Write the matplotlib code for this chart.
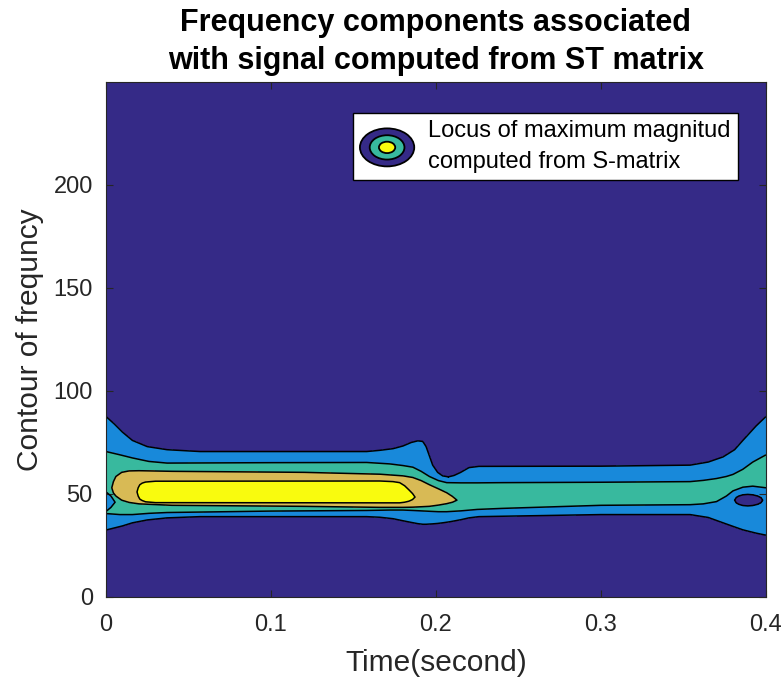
"""
Filled contour of the S-transform magnitude: frequency band vs. time,
five parula-style levels with black level lines.
"""
from __future__ import annotations

import matplotlib
matplotlib.use("Agg")
import matplotlib.pyplot as plt
import numpy as np
from matplotlib.legend_handler import HandlerBase
from matplotlib.patches import Ellipse

# level boundaries of the S-matrix magnitude, as (time, lower freq, upper freq)
BLUE_T = [0.0, 0.005, 0.01, 0.016, 0.025, 0.037, 0.057, 0.158, 0.166, 0.174, 0.18,
          0.185, 0.189, 0.192, 0.194, 0.196, 0.198, 0.201, 0.204, 0.2075, 0.211,
          0.215, 0.22, 0.226, 0.3, 0.354, 0.365, 0.374, 0.381, 0.386, 0.39, 0.394, 0.4]
BLUE_HI = [87.6, 84.0, 80.0, 76.0, 73.0, 71.5, 70.6, 70.6, 71.2, 72.0, 73.3,
           75.0, 75.8, 75.5, 73.0, 68.5, 64.0, 60.5, 58.8, 58.3, 59.0,
           60.5, 62.8, 63.4, 63.5, 64.0, 65.5, 68.0, 71.5, 76.0, 79.5, 83.0, 87.6]
BLUE_LO = [32.5, 33.5, 34.5, 36.0, 37.4, 38.4, 39.0, 39.0, 38.7, 38.0, 37.0,
           36.2, 35.6, 35.3, 35.3, 35.4, 35.5, 35.7, 36.0, 36.4, 36.9,
           37.5, 38.4, 39.0, 40.0, 40.0, 38.6, 36.0, 34.0, 32.6, 31.8, 31.0, 30.0]

TEAL_T = [0.0, 0.0085, 0.016, 0.026, 0.037, 0.1, 0.158, 0.172, 0.18, 0.186, 0.191,
          0.196, 0.2015, 0.2065, 0.215, 0.225, 0.24, 0.3, 0.354, 0.362, 0.37, 0.376,
          0.38, 0.386, 0.392, 0.4]
TEAL_HI = [70.6, 69.0, 67.5, 65.8, 65.0, 65.2, 65.3, 64.6, 63.8, 63.0, 61.0,
           58.5, 56.5, 55.5, 55.4, 55.4, 55.5, 55.7, 56.0, 56.6, 57.5, 58.5,
           59.5, 62.0, 65.5, 69.0]
TEAL_LO = [40.5, 40.0, 40.0, 40.6, 41.0, 41.7, 42.0, 42.2, 42.2, 42.0, 41.8,
           41.6, 41.4, 41.4, 41.8, 42.5, 43.0, 44.5, 44.8, 45.2, 46.3, 49.0,
           51.5, 53.3, 53.8, 53.0]

# low-magnitude tongue entering the band at t = 0
TONGUE_T = [0.0, 0.003, 0.0055]
TONGUE_HI = [51.0, 49.0, 46.0]
TONGUE_LO = [41.5, 43.5, 46.0]

TAN_T = [0.0035, 0.0045, 0.006, 0.0095, 0.014, 0.02, 0.04, 0.12, 0.166, 0.18,
         0.186, 0.191, 0.196, 0.2015, 0.2065, 0.21, 0.2127]
TAN_HI = [53.0, 56.0, 58.5, 60.5, 61.2, 61.3, 61.0, 60.5, 59.6, 58.8,
          58.0, 56.5, 54.5, 52.5, 50.6, 48.8, 47.0]
TAN_LO = [53.0, 50.5, 49.0, 47.0, 45.9, 45.2, 44.5, 44.0, 43.5, 43.5,
          43.6, 43.8, 44.0, 44.6, 45.3, 46.0, 47.0]

YELLOW_T = [0.0188, 0.0195, 0.0205, 0.022, 0.024, 0.03, 0.166, 0.174, 0.178,
            0.181, 0.1836, 0.1858, 0.1873]
YELLOW_HI = [51.0, 53.0, 54.5, 55.3, 55.8, 56.2, 56.3, 56.0, 55.5,
             54.0, 52.0, 50.2, 48.5]
YELLOW_LO = [51.0, 49.0, 47.5, 46.8, 46.2, 45.8, 45.7, 45.7, 45.7,
             46.0, 46.5, 47.3, 48.5]

# closed low-magnitude pocket near the end of the record
HOLE_T = [0.381, 0.382, 0.3835, 0.386, 0.389, 0.392, 0.395, 0.397, 0.398]
HOLE_HI = [47.0, 48.3, 49.0, 49.6, 49.8, 49.6, 49.0, 48.2, 47.0]
HOLE_LO = [47.0, 45.7, 45.0, 44.4, 44.2, 44.4, 45.0, 45.8, 47.0]

X_TICKS = [0, 0.1, 0.2, 0.3, 0.4]
X_TICK_LABELS = ["0", "0.1", "0.2", "0.3", "0.4"]
Y_TICKS = [0, 50, 100, 150, 200]

DARK = "#352A87"
BLUE = "#1889DA"
TEAL = "#38B99E"
TAN = "#D8BA55"
YELLOW = "#F9FB0E"
AX_COLOR = "#262626"

FREQ = np.linspace(0, 250, 2501)


def draw_band(ax, t, lo, hi, color):
    T, F = np.meshgrid(np.asarray(t), FREQ)
    inside = np.minimum(F - np.asarray(lo), np.asarray(hi) - F)
    ax.contourf(T, F, inside, levels=[0, 1e3], colors=[color])
    ax.contour(T, F, inside, levels=[0], colors="k", linewidths=1.1)


class ContourIcon(HandlerBase):
    def create_artists(self, legend, orig_handle, xdescent, ydescent,
                       width, height, fontsize, trans):
        cx, cy = width / 2 - xdescent, height / 2 - ydescent
        rings = []
        for frac, c in [(1.0, DARK), (0.64, TEAL), (0.3, YELLOW)]:
            rings.append(Ellipse((cx, cy), width * frac, height * frac,
                                 facecolor=c, edgecolor="k", lw=1.3, transform=trans))
        return rings


def main() -> None:
    plt.rcParams["font.family"] = ["Liberation Sans", "DejaVu Sans"]
    fig = plt.figure(figsize=(7.84, 6.85), dpi=100)
    ax = fig.add_axes([0.1352, 0.1285, 0.8418, 0.7518])
    ax.set_facecolor(DARK)

    draw_band(ax, BLUE_T, BLUE_LO, BLUE_HI, BLUE)
    draw_band(ax, TEAL_T, TEAL_LO, TEAL_HI, TEAL)
    draw_band(ax, TONGUE_T, TONGUE_LO, TONGUE_HI, BLUE)
    draw_band(ax, TAN_T, TAN_LO, TAN_HI, TAN)
    draw_band(ax, YELLOW_T, YELLOW_LO, YELLOW_HI, YELLOW)
    draw_band(ax, HOLE_T, HOLE_LO, HOLE_HI, DARK)

    ax.set_xlim(0, 0.4)
    ax.set_ylim(0, 250)
    ax.set_xticks(X_TICKS)
    ax.set_xticklabels(X_TICK_LABELS)
    ax.set_yticks(Y_TICKS)
    ax.tick_params(direction="in", length=5, width=0.8, top=True, right=True,
                   labelsize=17, colors=AX_COLOR)
    ax.tick_params(axis="x", pad=12.5)
    ax.tick_params(axis="y", pad=9.5)
    for sp in ax.spines.values():
        sp.set_color(AX_COLOR)
        sp.set_linewidth(0.8)

    ax.set_xlabel("Time(second)", fontsize=21.5, color=AX_COLOR, labelpad=9)
    ax.set_ylabel("Contour of frequncy", fontsize=21.5, color=AX_COLOR, labelpad=7)
    ax.set_title("Frequency components associated\nwith signal computed from ST matrix",
                 fontsize=22, fontweight="bold", linespacing=1.35, pad=9)

    leg = ax.legend([object()], ["Locus of maximum magnitud\ncomputed from S-matrix"],
                    handler_map={object: ContourIcon()},
                    loc="upper right", bbox_to_anchor=(0.9576, 0.9398), borderaxespad=0,
                    fontsize=17, handlelength=2.3, handleheight=2.1, handletextpad=0.6,
                    borderpad=0.3, fancybox=False, framealpha=1, edgecolor="k",
                    facecolor="white")
    for txt in leg.get_texts():
        txt.set_linespacing(1.5)

    fig.savefig("out.png", dpi=100)


if __name__ == "__main__":
    main()
